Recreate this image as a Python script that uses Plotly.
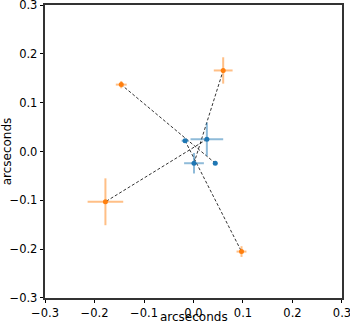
import plotly.graph_objects as go

# Blue (reference) points
blue_x = [-0.017, 0.027, 0.001, 0.044]
blue_y = [0.022, 0.025, -0.024, -0.024]
blue_xerr = [0.007, 0.033, 0.020, 0.002]
blue_yerr = [0.003, 0.034, 0.021, 0.002]

# Orange (measured) points, paired with blue in order
orange_x = [0.097, -0.178, 0.060, -0.146]
orange_y = [-0.205, -0.103, 0.166, 0.137]
orange_xerr = [0.010, 0.036, 0.019, 0.011]
orange_yerr = [0.011, 0.048, 0.027, 0.0075]

ticks = [-0.3, -0.2, -0.1, 0.0, 0.1, 0.2, 0.3]
tick_text = ["\u22120.3", "\u22120.2", "\u22120.1", "0.0", "0.1", "0.2", "0.3"]

fig = go.Figure()

# dashed connecting lines
for bx, by, ox, oy in zip(blue_x, blue_y, orange_x, orange_y):
    fig.add_trace(go.Scatter(x=[bx, ox], y=[by, oy], mode="lines",
                             line=dict(color="black", width=1, dash="3px,2px"),
                             opacity=0.8, showlegend=False, hoverinfo="skip"))

# error bars (semi-transparent)
fig.add_trace(go.Scatter(x=blue_x, y=blue_y, mode="markers",
                         marker=dict(size=0.1, color="rgba(0,0,0,0)"),
                         error_x=dict(type="data", array=blue_xerr, color="rgba(31,119,180,0.5)", thickness=2, width=0),
                         error_y=dict(type="data", array=blue_yerr, color="rgba(31,119,180,0.5)", thickness=2, width=0),
                         showlegend=False))
fig.add_trace(go.Scatter(x=orange_x, y=orange_y, mode="markers",
                         marker=dict(size=0.1, color="rgba(0,0,0,0)"),
                         error_x=dict(type="data", array=orange_xerr, color="rgba(255,127,14,0.5)", thickness=2, width=0),
                         error_y=dict(type="data", array=orange_yerr, color="rgba(255,127,14,0.5)", thickness=2, width=0),
                         showlegend=False))

# markers
fig.add_trace(go.Scatter(x=blue_x, y=blue_y, mode="markers",
                         marker=dict(size=5, color="#1f77b4"), showlegend=False))
fig.add_trace(go.Scatter(x=orange_x, y=orange_y, mode="markers",
                         marker=dict(size=5, color="#ff7f0e"), showlegend=False))

font = dict(family="DejaVu Sans", size=12, color="black")
tfont = dict(family="DejaVu Sans", size=11.5, color="black")
axis_common = dict(range=[-0.3001, 0.3001], tickvals=ticks, ticktext=tick_text,
                   showgrid=False, zeroline=False, showline=True, mirror=True,
                   linecolor="#333", linewidth=1.5, automargin=False,
                   ticklabeloverflow="allow",
                   ticks="outside", ticklen=3.5, tickwidth=1,
                   tickcolor="black", tickfont=tfont)

fig.update_xaxes(**axis_common)
fig.update_yaxes(**axis_common, title=dict(text="arcseconds", standoff=1, font=font))

# x-axis title as an annotation just below the tick labels
fig.add_annotation(text="arcseconds", xref="paper", yref="paper", x=0.5, y=-27 / 293,
                   xanchor="center", yanchor="bottom", showarrow=False, font=font,
                   borderpad=0)

fig.update_layout(width=350, height=325, margin=dict(l=45, r=8, t=5, b=27),
                  plot_bgcolor="white", paper_bgcolor="white")

fig.write_html("out.html")
